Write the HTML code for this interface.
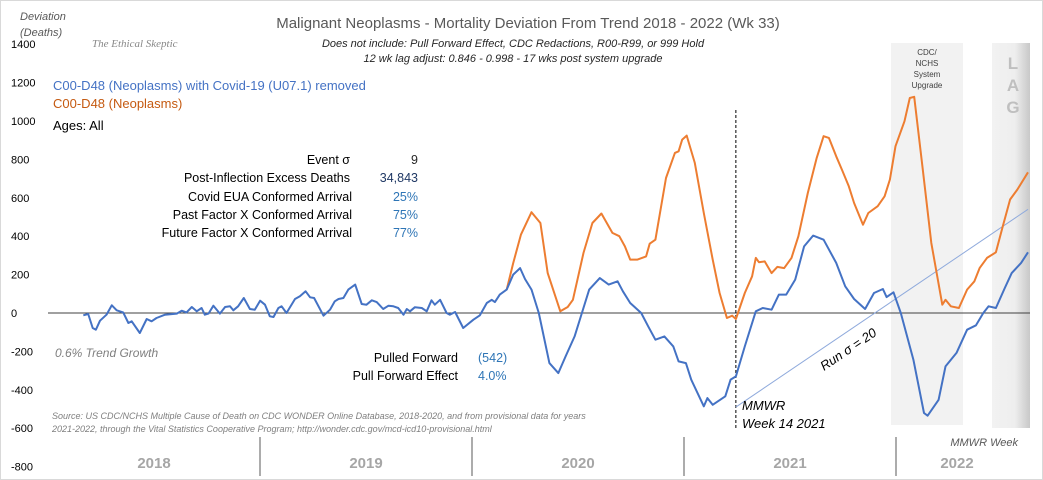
<!DOCTYPE html>
<html><head><meta charset="utf-8"><style>
html,body{margin:0;padding:0;background:#fff}
svg{display:block;font-family:"Liberation Sans",sans-serif}
</style></head><body>
<svg id="chart" width="1043" height="480" viewBox="0 0 1043 480">
<rect x="0.5" y="0.5" width="1042" height="479" fill="#fff" stroke="#d9d9d9"/>
<defs><linearGradient id="lagg" x1="0" x2="1"><stop offset="0" stop-color="#f2f2f2"/><stop offset="0.6" stop-color="#eeeeee"/><stop offset="1" stop-color="#c8c8c8"/></linearGradient></defs>
<rect x="891" y="43" width="72" height="382" fill="#f2f2f2"/>
<rect x="992" y="43" width="38" height="385" fill="url(#lagg)"/>
<g id="yticks"></g>
<g id="marks"></g>
<text x="528" y="28" font-size="15" fill="#595959" text-anchor="middle">Malignant Neoplasms - Mortality Deviation From Trend  2018 - 2022 (Wk 33)</text>
<text x="513" y="47" font-size="11" font-style="italic" fill="#262626" text-anchor="middle">Does not include: Pull Forward Effect,  CDC Redactions, R00-R99, or 999 Hold</text>
<text x="513" y="62" font-size="11" font-style="italic" fill="#262626" text-anchor="middle">12 wk lag adjust: 0.846 - 0.998 - 17 wks post system upgrade</text>
<text x="22" y="20" font-size="11" font-style="italic" fill="#595959"><tspan x="20">Deviation</tspan><tspan x="20" dy="16">(Deaths)</tspan></text>
<text x="92" y="47" font-size="11" font-style="italic" fill="#888" font-family="Liberation Serif,serif">The Ethical Skeptic</text>
<text x="53" y="90" font-size="13" fill="#4472c4">C00-D48 (Neoplasms) with Covid-19 (U07.1) removed</text>
<text x="53" y="108" font-size="13" fill="#c55a11">C00-D48 (Neoplasms)</text>
<text x="53" y="130" font-size="13" fill="#000">Ages: All</text>
<g font-size="12.5">
<text x="350" y="164" text-anchor="end">Event σ</text><text x="418" y="164" text-anchor="end" fill="#262626">9</text>
<text x="350" y="182" text-anchor="end">Post-Inflection Excess Deaths</text><text x="418" y="182" text-anchor="end" fill="#1f3864">34,843</text>
<text x="352" y="201" text-anchor="end">Covid EUA Conformed Arrival</text><text x="418" y="201" text-anchor="end" fill="#2e75b6">25%</text>
<text x="352" y="219" text-anchor="end">Past Factor X Conformed Arrival</text><text x="418" y="219" text-anchor="end" fill="#2e75b6">75%</text>
<text x="352" y="237" text-anchor="end">Future Factor X Conformed Arrival</text><text x="418" y="237" text-anchor="end" fill="#2e75b6">77%</text>
<text x="458" y="362" text-anchor="end">Pulled Forward</text><text x="478" y="362" fill="#2e75b6">(542)</text>
<text x="458" y="380" text-anchor="end">Pull Forward Effect</text><text x="478" y="380" fill="#2e75b6">4.0%</text>
</g>
<text x="55" y="357" font-size="12" font-style="italic" fill="#7f7f7f">0.6% Trend Growth</text>
<text x="52" y="419" font-size="9" font-style="italic" fill="#7f7f7f"><tspan x="52">Source: US CDC/NCHS Multiple Cause of Death on CDC WONDER Online Database, 2018-2020, and from provisional data for years</tspan><tspan x="52" dy="13">2021-2022, through the Vital Statistics Cooperative Program; http://wonder.cdc.gov/mcd-icd10-provisional.html</tspan></text>
<text x="742" y="410" font-size="13" font-style="italic" fill="#000"><tspan x="742">MMWR</tspan><tspan x="742" dy="18">Week 14 2021</tspan></text>
<text x="824" y="371" font-size="13" font-style="italic" fill="#000" transform="rotate(-34 824 371)">Run σ = 20</text>
<text x="927" y="55" font-size="8" fill="#404040" text-anchor="middle"><tspan x="927">CDC/</tspan><tspan x="927" dy="11">NCHS</tspan><tspan x="927" dy="11">System</tspan><tspan x="927" dy="11">Upgrade</tspan></text>
<text x="1013" y="69" font-size="17" font-weight="bold" fill="#bfbfbf" text-anchor="middle"><tspan x="1013">L</tspan><tspan x="1013" dy="22">A</tspan><tspan x="1013" dy="22">G</tspan></text>
<text x="1018" y="446" font-size="11" font-style="italic" fill="#595959" text-anchor="end">MMWR Week</text>
<g id="xaxis"></g>
</svg>
<script>
const yTicks=[1400,1200,1000,800,600,400,200,0,-200,-400,-600,-800];
const years=["2018","2019","2020","2021","2022"];
const blueWeeks=[8.7,9.9,11.0,11.8,12.8,14.4,15.7,16.9,18.5,19.8,20.6,22.6,24.3,25.5,26.7,28.8,31.7,32.9,34.1,35.4,36.6,37.8,38.6,39.5,40.7,42.3,43.6,44.8,45.6,46.8,48.2,49.7,50.9,52.2,53.4,54.6,55.5,56.7,57.5,58.7,60.8,62.0,63.4,64.5,65.5,67.8,69.4,70.6,71.5,72.7,73.9,75.6,77.2,78.4,79.7,80.9,82.5,83.8,85.0,86.2,87.5,88.3,89.1,90.3,92.0,93.2,94.4,95.2,96.5,98.1,98.9,100.2,102.2,104.7,106.3,108.0,109.2,110.0,111.2,112.9,114.5,116.2,117.4,119.0,120.8,123.4,125.6,127.4,129.6,131.4,133.2,135.8,138.0,140.2,141.5,143.3,146.0,147.7,149.5,151.7,153.9,155.2,157.0,158.3,161.4,162.3,163.6,166.7,168.0,169.3,171.5,174.2,175.9,178.1,179.9,181.7,183.9,186.1,188.3,190.9,194.0,196.2,198.4,201.1,203.3,205.5,206.4,208.1,209.9,213.0,215.6,216.5,219.2,220.9,223.6,226.2,228.4,230.2,231.5,233.3,235.5,237.2,239.5,241.2];
const blueValues=[-12,-5,-78,-87,-40,-9,40,14,3,-52,-43,-104,-31,-43,-26,-9,-3,12,3,31,9,26,-9,-3,38,-3,31,35,14,35,78,21,17,64,43,-17,-21,26,35,0,73,87,113,82,78,-14,17,61,73,78,122,148,47,43,66,57,21,38,35,26,-9,21,9,30,26,9,66,43,69,0,-9,5,-78,-35,-12,52,69,57,96,122,200,234,177,122,0,-261,-313,-226,-122,0,122,182,148,165,113,52,0,-69,-139,-122,-174,-252,-261,-347,-486,-443,-478,-434,-347,-330,-174,9,26,17,96,96,174,347,403,382,261,139,73,21,104,125,83,108,0,-243,-521,-535,-452,-278,-208,-87,-64,0,35,26,130,208,261,316];
const orangeWeeks=[112.9,114.5,116.4,119.0,121.2,123.0,126.1,127.9,129.2,131.8,134.0,136.2,138.9,140.6,142.0,143.3,145.1,147.2,148.1,149.5,152.1,154.3,155.2,156.1,157.2,159.2,161.4,163.6,165.3,167.1,168.4,169.3,171.5,173.3,174.2,175.0,176.4,178.1,179.5,181.2,183.0,184.7,187.0,189.2,190.9,192.2,194.0,195.4,197.1,198.4,200.6,201.9,204.2,205.9,207.2,208.6,210.8,212.1,213.2,215.2,217.4,220.1,220.9,222.2,224.2,226.2,228.0,229.3,231.1,233.3,235.0,236.8,238.6,241.2];
const orangeValues=[122,260,408,525,469,208,9,31,69,313,469,518,417,400,347,278,278,295,361,382,703,834,842,903,924,782,521,278,104,-26,-14,-31,104,191,287,264,269,208,240,234,287,400,625,808,921,912,816,747,660,573,460,521,556,608,695,869,999,1120,1126,764,365,43,69,35,26,122,165,234,287,316,452,591,643,733];
const runLine=[169.3,-490,241.2,540];
const markerWeek=169.3;

const NS="http://www.w3.org/2000/svg";
const svg=document.getElementById('chart');
const X=w=>48+w*4.063;
const Y=v=>313-v*0.192;
function mk(tag,attrs,parent){const e=document.createElementNS(NS,tag);for(const k in attrs)e.setAttribute(k,attrs[k]);parent.appendChild(e);return e;}
const yg=document.getElementById('yticks');
yTicks.forEach(t=>{
  const tx=mk('text',{x:11,y:Y(t)+4,'font-size':11,fill:'#000'},yg);
  tx.textContent=t;
  
  
});
const marks=document.getElementById('marks');
const zl=mk('line',{x1:48,x2:1030,y1:Y(0),y2:Y(0),stroke:'#404040','stroke-width':1},marks);


const dl=mk('line',{x1:X(markerWeek),x2:X(markerWeek),y1:110,y2:428,stroke:'#000','stroke-width':1,'stroke-dasharray':'3,2'},marks);


const rl=mk('line',{x1:X(runLine[0]),y1:Y(runLine[1]),x2:X(runLine[2]),y2:Y(runLine[3]),stroke:'#8faadc','stroke-width':1},marks);


function path(ws,vs){return ws.map((w,i)=>(i?'L':'M')+X(w).toFixed(1)+','+Y(vs[i]).toFixed(1)).join('');}
const op=mk('path',{d:path(orangeWeeks,orangeValues),fill:'none',stroke:'#ed7d31','stroke-width':2,'stroke-linejoin':'round'},marks);


const bp=mk('path',{d:path(blueWeeks,blueValues),fill:'none',stroke:'#4472c4','stroke-width':2,'stroke-linejoin':'round'},marks);


const xg=document.getElementById('xaxis');
years.forEach((y,i)=>{
  const x0=48+i*212, x1=Math.min(x0+212,1030);
  const t=mk('text',{x:(x0+x1)/2-(i==4?6:0),y:468,'font-size':15,'font-weight':'bold',fill:'#a6a6a6','text-anchor':'middle'},xg);
  t.textContent=y;
  
  
  if(i>0){
    const l=mk('line',{x1:x0,x2:x0,y1:437,y2:476,stroke:'#595959','stroke-width':1},xg);
    
    
  }
});
</script>
</body></html>
